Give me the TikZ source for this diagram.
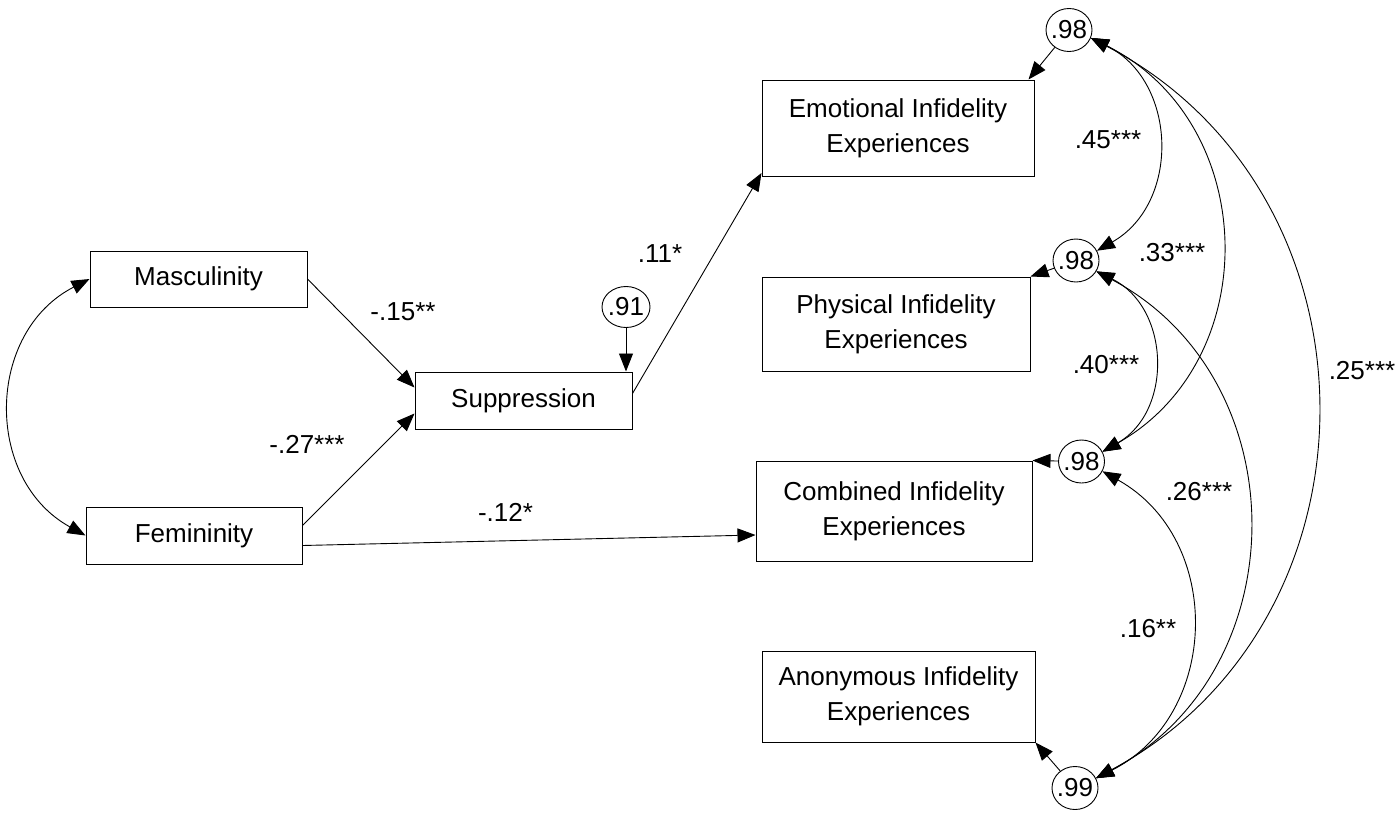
\documentclass[tikz,border=0pt]{standalone}
\usepackage{fontspec}
\setmainfont{Liberation Sans}
\usetikzlibrary{arrows.meta,shapes.geometric}
\newcommand\errval[1]{\makebox[0pt]{#1}}
\begin{document}
\begin{tikzpicture}[x=1pt,y=1pt,
  font=\fontsize{26}{35}\selectfont,
  box/.style={draw, line width=1pt, align=center, inner sep=0pt},
  err/.style={ellipse, draw, line width=0.9pt, inner sep=0pt,
              minimum width=46pt, minimum height=43pt},
  tip/.tip={Triangle[length=18pt,width=14pt]},
  path/.style={line width=0.9pt, -tip},
  cov/.style={line width=0.9pt, tip-tip, looseness=1.16},
  lbl/.style={anchor=base, inner sep=0pt}]
\useasboundingbox (0,0) rectangle (1397,-814);

% observed variables
\node[box, minimum width=217pt, minimum height=56pt] (masc) at (198.5,-279) {Masculinity};
\node[box, minimum width=216pt, minimum height=57pt] (fem) at (194,-535.5) {Femininity};
\node[box, minimum width=217pt, minimum height=57pt] (supp) at (523.5,-400.5) {Suppression};
\node[box, minimum width=272pt, minimum height=96pt] (emo) at (898,-128) {Emotional Infidelity\\Experiences};
\node[box, minimum width=268pt, minimum height=94pt] (phy) at (896,-324) {Physical Infidelity\\Experiences};
\node[box, minimum width=276pt, minimum height=100pt] (com) at (894,-511) {Combined Infidelity\\Experiences};
\node[box, minimum width=273pt, minimum height=91pt] (ano) at (898.5,-696.5) {Anonymous Infidelity\\Experiences};

% error terms
\node[err, minimum width=48pt, minimum height=41pt] (e0) at (626,-307) {\errval{.91}};
\node[err] (e1) at (1069,-30) {\errval{.98}};
\node[err] (e2) at (1076,-260.5) {\errval{.98}};
\node[err] (e3) at (1081.5,-461.5) {\errval{.98}};
\node[err] (e4) at (1075,-788) {\errval{.99}};

% regression paths
\draw[path] (masc.east) -- ([yshift=13pt]supp.west);
\draw[path] ([yshift=10pt]fem.east) -- ([yshift=-13pt]supp.west);
\draw[path] ([yshift=-10pt]fem.east) -- ([yshift=-24pt]com.west);
\draw[path] ([yshift=7pt]supp.east) -- ([yshift=-45pt]emo.west);

% error paths
\draw[path] (e0) -- (e0 |- supp.north);
\draw[path] (e1) -- ([xshift=-6pt]emo.north east);
\draw[path] (e2) -- (phy.north east);
\draw[path] (e3) -- (com.north east);
\draw[path] (e4) -- (ano.south east);

% covariances
\draw[cov] (masc.west) to[bend right=62] (fem.west);
\draw[cov] (e1.-20) to[bend left=62] (e2.25);
\draw[cov] (e1.-20) to[bend left=62] (e3.25);
\draw[cov] (e1.-20) to[bend left=62] (e4.25);
\draw[cov] (e2.-28) to[bend left=62] (e3.25);
\draw[cov] (e2.-28) to[bend left=62] (e4.25);
\draw[cov] (e3.-25) to[bend left=62] (e4.25);

% coefficients
\node[lbl] (c1) at (403,-320) {-.15**};
\node[lbl] (c2) at (307,-453) {-.27***};
\node[lbl] (c3) at (660,-262) {.11*};
\node[lbl] (c4) at (505.5,-521) {-.12*};
\node[lbl] (c5) at (1108,-148) {.45***};
\node[lbl] (c6) at (1172,-261) {.33***};
\node[lbl] (c7) at (1106,-373) {.40***};
\node[lbl] (c8) at (1362,-379) {.25***};
\node[lbl] (c9) at (1199,-500) {.26***};
\node[lbl] (c10) at (1148,-637) {.16**};
\end{tikzpicture}
\end{document}
